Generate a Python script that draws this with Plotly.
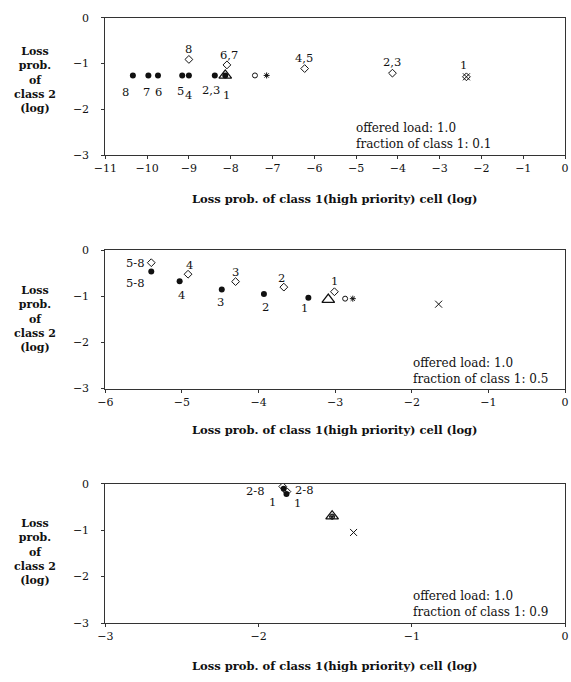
import plotly.graph_objects as go

# ---------------- data: log10 loss probabilities per buffer scheme ----------------
# panel 1: fraction of class 1 = 0.1
p1_dot_x = [-8.13, -8.38, -9.0, -9.16, -9.74, -9.97, -10.34]
p1_dot_y = [-1.26, -1.26, -1.26, -1.26, -1.26, -1.26, -1.26]
p1_dot_lab = ["1", "2,3", "4", "5", "6", "7", "8"]
p1_dia_x = [-2.36, -4.13, -6.23, -8.09, -9.0]
p1_dia_y = [-1.29, -1.21, -1.11, -1.03, -0.91]
p1_dia_lab = ["1", "2,3", "4,5", "6,7", "8"]
p1_tri = (-8.13, -1.26)
p1_circ = (-7.42, -1.26)
p1_star = (-7.14, -1.26)
p1_cross = (-2.36, -1.29)

# panel 2: fraction of class 1 = 0.5
p2_dot_x = [-3.35, -3.93, -4.48, -5.03, -5.40]
p2_dot_y = [-1.03, -0.95, -0.85, -0.67, -0.46]
p2_dot_lab = ["1", "2", "3", "4", "5-8"]
p2_dia_x = [-3.01, -3.67, -4.30, -4.92, -5.40]
p2_dia_y = [-0.90, -0.80, -0.68, -0.52, -0.27]
p2_dia_lab = ["1", "2", "3", "4", "5-8"]
p2_tri = (-3.09, -1.07)
p2_circ = (-2.87, -1.05)
p2_star = (-2.77, -1.05)
p2_cross = (-1.65, -1.17)

# panel 3: fraction of class 1 = 0.9
p3_dot_x = [-1.818, -1.836]
p3_dot_y = [-0.22, -0.11]
p3_dot_lab = ["1", "2-8"]
p3_dia_x = [-1.815, -1.842]
p3_dia_y = [-0.17, -0.06]
p3_dia_lab = ["1", "2-8"]
p3_tri = (-1.52, -0.70)
p3_circ = (-1.52, -0.71)
p3_star = (-1.52, -0.71)
p3_cross = (-1.38, -1.05)

fractions = ["0.1", "0.5", "0.9"]
x_ranges = [(-11, 0), (-6, 0), (-3, 0)]
y_tick_vals = [0, -1, -2, -3]

# ---------------- label offsets (pixels, dx right, dy down) ----------------
p1_dot_off = [(1, 20), (-4, 15), (0, 20), (-2, 16), (1, 17), (-2, 17), (-7, 17)]
p1_dia_off = [(-3, -12), (0, -11), (-1, -11), (2, -10), (0, -10)]
p2_dot_off = [(-4, 10), (2, 13), (-1, 13), (2, 14), (-16, 12)]
p2_dia_off = [(0, -11), (-2, -9), (0, -10), (1, -9), (-16, 0)]
p3_dot_off = [(-14, 8), (-28, 2)]
p3_dia_off = [(11, 11), (22, 3)]

W, H = 571, 682
SERIF = "DejaVu Serif"
INK = "#111111"

# plot boxes in pixel coordinates: (left, right, top, bottom)
boxes = [(96, 569, 12, 152), (96, 569, 249, 390), (96, 569, 487, 629)]
# text anchor positions (pixels)
note_pos = [(352, 133), (410, 372), (411, 610)]
ytitle_cy = [75, 319, 557]
xtitle_cy = [197, 432, 673]

panels = [
    dict(dx=p1_dot_x, dy=p1_dot_y, dl=p1_dot_lab, do=p1_dot_off,
         ix=p1_dia_x, iy=p1_dia_y, il=p1_dia_lab, io=p1_dia_off,
         tri=p1_tri, circ=p1_circ, star=p1_star, cross=p1_cross),
    dict(dx=p2_dot_x, dy=p2_dot_y, dl=p2_dot_lab, do=p2_dot_off,
         ix=p2_dia_x, iy=p2_dia_y, il=p2_dia_lab, io=p2_dia_off,
         tri=p2_tri, circ=p2_circ, star=p2_star, cross=p2_cross),
    dict(dx=p3_dot_x, dy=p3_dot_y, dl=p3_dot_lab, do=p3_dot_off,
         ix=p3_dia_x, iy=p3_dia_y, il=p3_dia_lab, io=p3_dia_off,
         tri=p3_tri, circ=p3_circ, star=p3_star, cross=p3_cross),
]

fig = go.Figure()
annotations = []
layout_axes = {}


def py2paper(py):
    return 1 - py / H


def px2paper(px):
    return px / W


for i, p in enumerate(panels):
    n = "" if i == 0 else str(i + 1)
    xa, ya = "x" + n, "y" + n
    left, right, top, bottom = boxes[i]

    common = dict(showline=True, linecolor="#333333", linewidth=1, mirror=True,
                  showgrid=False, zeroline=False, ticks="outside", ticklen=3,
                  tickcolor="#333333", ticklabeloverflow="allow",
                  tickfont=dict(family=SERIF, size=11, color=INK))
    layout_axes["xaxis" + n] = dict(common, domain=[px2paper(left), px2paper(right)],
                                    range=list(x_ranges[i]), dtick=1, anchor=ya,
                                    tickformat="d", ticklabelstandoff=0)
    layout_axes["yaxis" + n] = dict(common, domain=[py2paper(bottom), py2paper(top)],
                                    range=[-3, 0], tickvals=y_tick_vals, anchor=xa,
                                    ticklabelstandoff=10)

    # cross (drawn first so other marks sit on top)
    fig.add_trace(go.Scatter(x=[p["cross"][0]], y=[p["cross"][1]], mode="markers",
                             marker=dict(symbol="x-thin-open", size=7, color=INK,
                                         line=dict(width=1, color=INK)),
                             xaxis=xa, yaxis=ya, showlegend=False))
    # open triangle
    fig.add_trace(go.Scatter(x=[p["tri"][0]], y=[p["tri"][1]], mode="markers",
                             marker=dict(symbol="triangle-up-open", size=11, color=INK,
                                         line=dict(width=1.3, color=INK)),
                             xaxis=xa, yaxis=ya, showlegend=False))
    # small open circle
    fig.add_trace(go.Scatter(x=[p["circ"][0]], y=[p["circ"][1]], mode="markers",
                             marker=dict(symbol="circle-open", size=5, color=INK,
                                         line=dict(width=1, color=INK)),
                             xaxis=xa, yaxis=ya, showlegend=False))
    # asterisk
    fig.add_trace(go.Scatter(x=[p["star"][0]], y=[p["star"][1]], mode="markers",
                             marker=dict(symbol="asterisk-open", size=5, color=INK,
                                         line=dict(width=1, color=INK)),
                             xaxis=xa, yaxis=ya, showlegend=False))
    # open diamonds
    fig.add_trace(go.Scatter(x=p["ix"], y=p["iy"], mode="markers",
                             marker=dict(symbol="diamond-open", size=6, color=INK,
                                         line=dict(width=1, color=INK)),
                             xaxis=xa, yaxis=ya, showlegend=False))
    # filled dots
    fig.add_trace(go.Scatter(x=p["dx"], y=p["dy"], mode="markers",
                             marker=dict(symbol="circle", size=6, color=INK),
                             xaxis=xa, yaxis=ya, showlegend=False))

    # scheme labels next to the points
    for xs, ys, labs, offs in ((p["dx"], p["dy"], p["dl"], p["do"]),
                               (p["ix"], p["iy"], p["il"], p["io"])):
        for xv, yv, lab, (ox, oy) in zip(xs, ys, labs, offs):
            annotations.append(dict(x=xv, y=yv, xref=xa, yref=ya, text=lab,
                                    showarrow=False, xshift=ox, yshift=-oy,
                                    font=dict(family=SERIF, size=11.5, color=INK)))

    # operating-point note
    nx, ny = note_pos[i]
    annotations.append(dict(x=px2paper(nx), y=py2paper(ny), xref="paper", yref="paper",
                            xanchor="left", yanchor="middle", align="left",
                            text="offered load: 1.0<br>fraction of class 1: " + fractions[i],
                            showarrow=False,
                            font=dict(family=SERIF, size=12, color=INK)))
    # axis titles
    annotations.append(dict(x=px2paper((left + right) / 2), y=py2paper(xtitle_cy[i]),
                            xref="paper", yref="paper", xanchor="center", yanchor="middle",
                            text="<b>Loss prob. of class 1(high priority) cell (log)</b>",
                            showarrow=False,
                            font=dict(family=SERIF, size=11.5, color=INK)))
    annotations.append(dict(x=px2paper(24), y=py2paper(ytitle_cy[i]),
                            xref="paper", yref="paper", xanchor="center", yanchor="middle",
                            align="center",
                            text="<b>Loss<br>prob.<br>of<br>class 2<br>(log)</b>",
                            showarrow=False,
                            font=dict(family=SERIF, size=11, color=INK)))

fig.update_layout(width=W, height=H, margin=dict(l=0, r=0, t=0, b=0),
                  paper_bgcolor="white", plot_bgcolor="white",
                  annotations=annotations, **layout_axes)

# page body without default margin so the figure sits flush in the window
fig.write_html("out.html", post_script="document.body.style.margin='0';")
